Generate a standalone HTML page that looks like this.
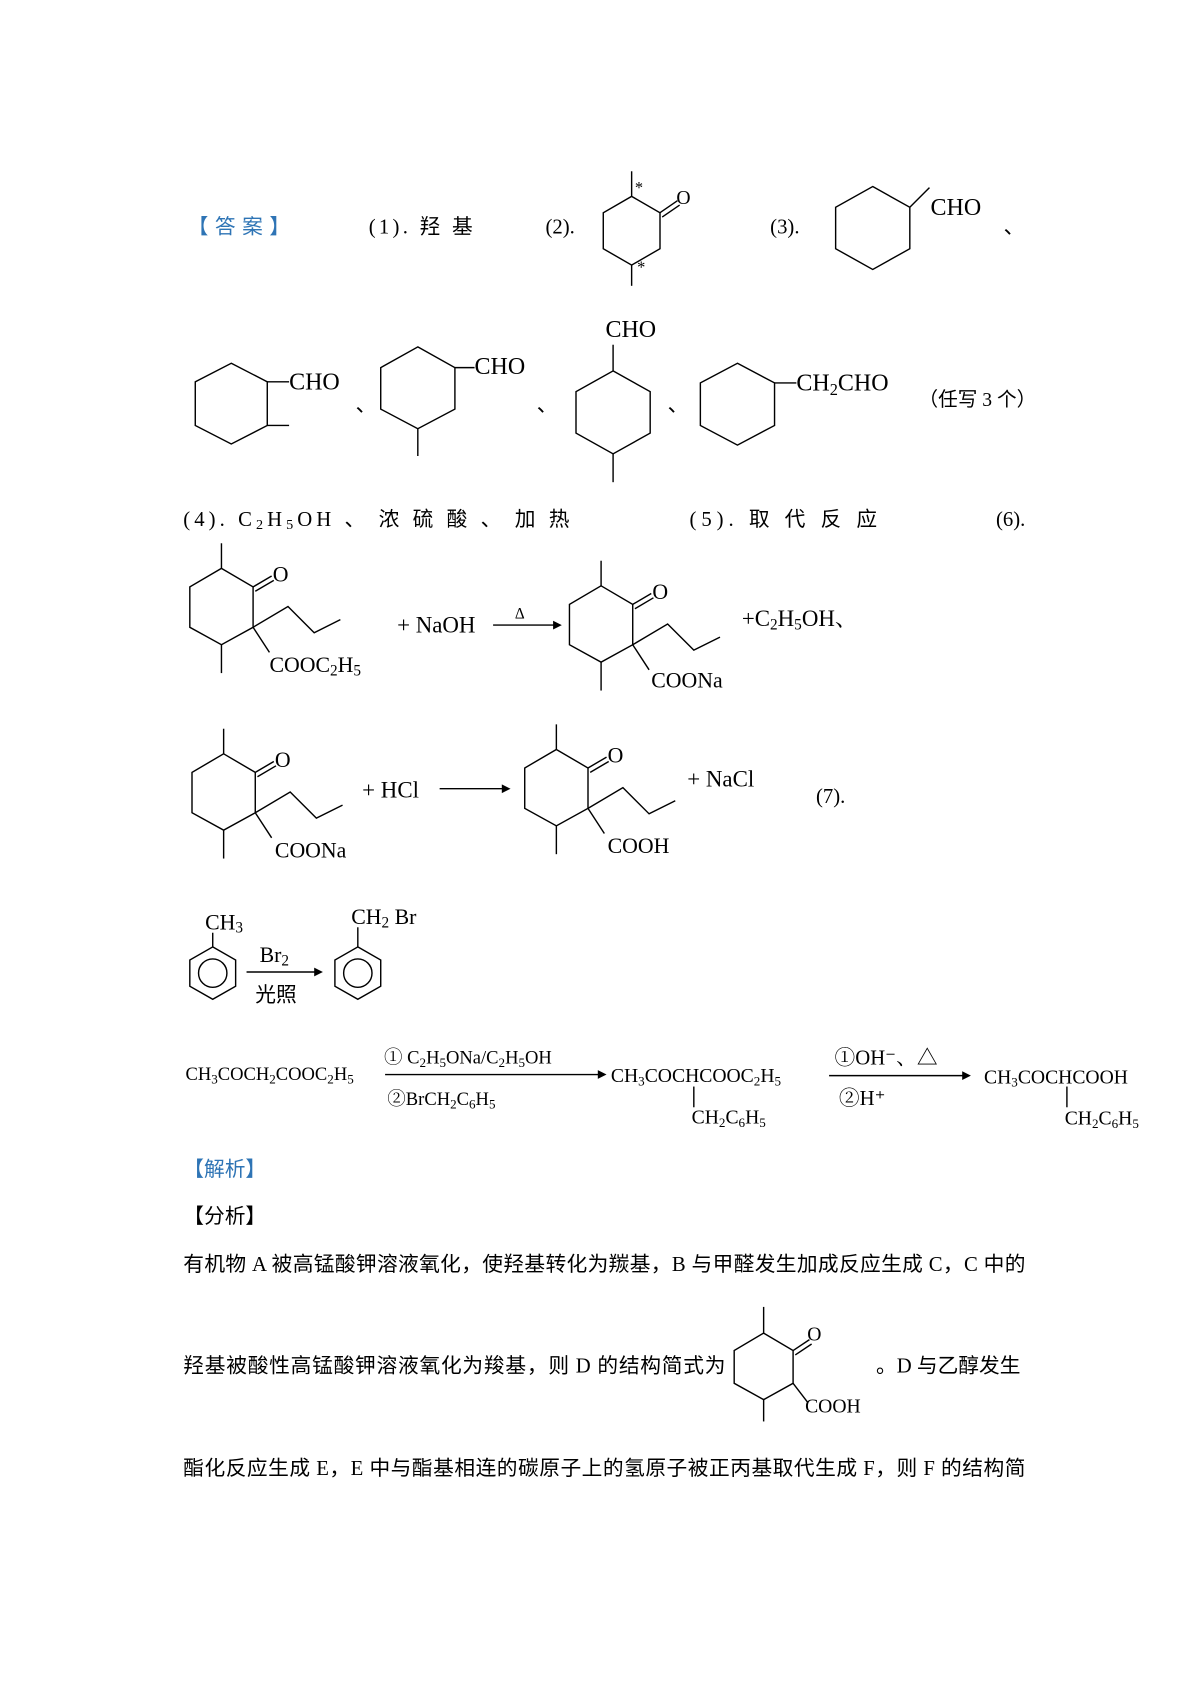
<!DOCTYPE html>
<html><head><meta charset="utf-8"><style>
html,body{margin:0;padding:0;background:#fff;}
svg{display:block;}
text{font-family:"Liberation Serif","Noto Serif CJK SC","Noto Sans CJK SC",serif;fill:#000;}
.cn{font-family:"Liberation Serif","Noto Sans CJK SC",serif;}
</style></head><body>
<svg width="1200" height="1698" viewBox="0 0 1100 1556.5" xmlns="http://www.w3.org/2000/svg">
<g stroke="#000" stroke-width="1.3" fill="none">
<polygon points="579,180 605,195 605,228 579,243 553,228 553,195"/>
<line x1="579" y1="180" x2="579" y2="157"/><line x1="579" y1="243" x2="579" y2="262"/>
<line x1="605" y1="195" x2="621" y2="184"/><line x1="607" y1="199" x2="623" y2="188"/>
<polygon points="800,171 834,190 834,228 800,247 766,228 766,190"/>
<line x1="834" y1="190" x2="852" y2="172"/>
<polygon points="212,333 245,350 245,390 212,407 179,390 179,350"/>
<line x1="245" y1="350" x2="265" y2="350"/><line x1="245" y1="390" x2="265" y2="390"/>
<polygon points="383,318 417,337 417,375 383,393 349,375 349,337"/>
<line x1="417" y1="337" x2="435" y2="337"/><line x1="383" y1="393" x2="383" y2="418"/>
<polygon points="562,340 596,359 596,397 562,416 528,397 528,359"/>
<line x1="562" y1="340" x2="562" y2="316"/><line x1="562" y1="416" x2="562" y2="442"/>
<polygon points="676,333 710,351 710,390 676,408 642,390 642,351"/>
<line x1="710" y1="351" x2="730" y2="351"/>
<g id="rA">
<polygon points="203,521 232,538 232,575 203,591 174,575 174,538"/>
<line x1="203" y1="521" x2="203" y2="498"/><line x1="203" y1="591" x2="203" y2="617"/>
<line x1="232" y1="538" x2="249" y2="528"/><line x1="234" y1="542" x2="251" y2="532"/>
<polyline points="232,575 264,556 288,580 312,568"/>
<line x1="232" y1="575" x2="247" y2="598"/>
</g>
<use href="#rA" transform="translate(348,16)"/>
<use href="#rA" transform="translate(2,170)"/>
<use href="#rA" transform="translate(307,166)"/>
<line x1="452" y1="573" x2="510" y2="573"/><line x1="403" y1="723" x2="463" y2="723"/>
<polygon points="195,868 216,880 216,904 195,916 174,904 174,880"/>
<circle cx="195" cy="892" r="13"/>
<line x1="195" y1="868" x2="195" y2="855"/>
<polygon points="328,868 349,880 349,904 328,916 307,904 307,880"/>
<circle cx="328" cy="892" r="13"/>
<line x1="328" y1="868" x2="328" y2="850"/>
<line x1="226" y1="891" x2="290" y2="891"/>
<line x1="353" y1="985" x2="550" y2="985"/>
<line x1="636" y1="996" x2="636" y2="1015"/>
<line x1="760" y1="986" x2="884" y2="986"/>
<line x1="978" y1="996" x2="978" y2="1015"/>
<polygon points="700,1222 727,1238 727,1268 700,1283 673,1268 673,1238"/>
<line x1="700" y1="1222" x2="700" y2="1198"/><line x1="700" y1="1283" x2="700" y2="1303"/>
<line x1="727" y1="1238" x2="742" y2="1228"/><line x1="729" y1="1242" x2="744" y2="1232"/>
<line x1="727" y1="1268" x2="740" y2="1285"/>
</g>
<g fill="#000">
<polygon points="515,573 507,569 507,577"/><polygon points="468,723 460,719 460,727"/>
<polygon points="296,891 288,887 288,895"/><polygon points="556,985 548,981 548,989"/>
<polygon points="890,986 882,982 882,990"/>
</g>
<g font-size="19">
<text x="172" y="214" style="fill:#2e74b5" class="cn" letter-spacing="6">【答案】</text>
<text x="338" y="214" class="cn" letter-spacing="3">(1).  羟 基</text>
<text x="500" y="214">(2).</text>
<text x="706" y="214">(3).</text>
<text x="920" y="214" class="cn">、</text>
<text x="620" y="187" font-size="18">O</text>
<text x="582" y="177" font-size="15">*</text>
<text x="584" y="250" font-size="15">*</text>
<text x="853" y="197" font-size="22">CHO</text>
<text x="265" y="357" font-size="22">CHO</text>
<text x="435" y="343" font-size="22">CHO</text>
<text x="555" y="309" font-size="22">CHO</text>
<text x="730" y="358" font-size="22">CH<tspan font-size="15" dy="4">2</tspan><tspan dy="-4">CHO</tspan></text>
<text x="326" y="377" class="cn">、</text><text x="492" y="377" class="cn">、</text><text x="612" y="377" class="cn">、</text>
<text x="842" y="372" class="cn" font-size="18">（任写 3 个）</text>
<text x="168" y="482" class="cn" textLength="354" lengthAdjust="spacing">(4).   C<tspan font-size="13" dy="3">2</tspan><tspan dy="-3">H</tspan><tspan font-size="13" dy="3">5</tspan><tspan dy="-3">OH  、 浓  硫  酸  、 加  热</tspan></text>
<text x="632" y="482" class="cn" textLength="172" lengthAdjust="spacing">(5).   取  代  反  应</text>
<text x="913" y="482">(6).</text>
<text x="250" y="533" font-size="20">O</text>
<text x="247" y="616" font-size="20">COOC<tspan font-size="14" dy="3">2</tspan><tspan dy="-3">H</tspan><tspan font-size="14" dy="3">5</tspan></text>
<text x="364" y="580" font-size="21">+ NaOH</text>
<text x="472" y="567" font-size="14">Δ</text>
<text x="598" y="549" font-size="20">O</text>
<text x="597" y="630" font-size="20">COONa</text>
<text x="680" y="574" font-size="21">+C<tspan font-size="14" dy="3">2</tspan><tspan dy="-3">H</tspan><tspan font-size="14" dy="3">5</tspan><tspan dy="-3">OH、</tspan></text>
<text x="252" y="703" font-size="20">O</text>
<text x="252" y="786" font-size="20">COONa</text>
<text x="332" y="731" font-size="21">+ HCl</text>
<text x="557" y="699" font-size="20">O</text>
<text x="557" y="782" font-size="20">COOH</text>
<text x="630" y="721" font-size="21">+ NaCl</text>
<text x="748" y="736">(7).</text>
<text x="188" y="852" font-size="20">CH<tspan font-size="14" dy="3">3</tspan></text>
<text x="238" y="882" font-size="20">Br<tspan font-size="14" dy="3">2</tspan></text>
<text x="234" y="918" font-size="19" class="cn">光照</text>
<text x="322" y="847" font-size="20">CH<tspan font-size="14" dy="3">2</tspan><tspan dy="-3"> Br</tspan></text>
<g font-size="17">
<text x="170" y="990">CH<tspan font-size="12" dy="3">3</tspan><tspan dy="-3">COCH</tspan><tspan font-size="12" dy="3">2</tspan><tspan dy="-3">COOC</tspan><tspan font-size="12" dy="3">2</tspan><tspan dy="-3">H</tspan><tspan font-size="12" dy="3">5</tspan></text>
<text x="352" y="975">① C<tspan font-size="12" dy="3">2</tspan><tspan dy="-3">H</tspan><tspan font-size="12" dy="3">5</tspan><tspan dy="-3">ONa/C</tspan><tspan font-size="12" dy="3">2</tspan><tspan dy="-3">H</tspan><tspan font-size="12" dy="3">5</tspan><tspan dy="-3">OH</tspan></text>
<text x="355" y="1013">②BrCH<tspan font-size="12" dy="3">2</tspan><tspan dy="-3">C</tspan><tspan font-size="12" dy="3">6</tspan><tspan dy="-3">H</tspan><tspan font-size="12" dy="3">5</tspan></text>
<text x="560" y="992" font-size="18">CH<tspan font-size="12" dy="3">3</tspan><tspan dy="-3">COCHCOOC</tspan><tspan font-size="12" dy="3">2</tspan><tspan dy="-3">H</tspan><tspan font-size="12" dy="3">5</tspan></text>
<text x="634" y="1030" font-size="18">CH<tspan font-size="12" dy="3">2</tspan><tspan dy="-3">C</tspan><tspan font-size="12" dy="3">6</tspan><tspan dy="-3">H</tspan><tspan font-size="12" dy="3">5</tspan></text>
<text x="765" y="976" font-size="19">①OH⁻、△</text>
<text x="769" y="1013" font-size="19">②H⁺</text>
<text x="902" y="993" font-size="18">CH<tspan font-size="12" dy="3">3</tspan><tspan dy="-3">COCHCOOH</tspan></text>
<text x="976" y="1031" font-size="18">CH<tspan font-size="12" dy="3">2</tspan><tspan dy="-3">C</tspan><tspan font-size="12" dy="3">6</tspan><tspan dy="-3">H</tspan><tspan font-size="12" dy="3">5</tspan></text>
</g>
<text x="168" y="1078" class="cn" style="fill:#2e74b5">【解析】</text>
<text x="168" y="1121" class="cn">【分析】</text>
<text x="168" y="1165" class="cn" textLength="772">有机物 A 被高锰酸钾溶液氧化，使羟基转化为羰基，B 与甲醛发生加成反应生成 C，C 中的</text>
<text x="168" y="1258" class="cn" textLength="497">羟基被酸性高锰酸钾溶液氧化为羧基，则 D 的结构简式为</text>
<text x="740" y="1229" font-size="18">O</text>
<text x="738" y="1295" font-size="18">COOH</text>
<text x="803" y="1258" class="cn">。D 与乙醇发生</text>
<text x="168" y="1352" class="cn" textLength="772">酯化反应生成 E，E 中与酯基相连的碳原子上的氢原子被正丙基取代生成 F，则 F 的结构简</text>
</g>
</svg>
</body></html>
